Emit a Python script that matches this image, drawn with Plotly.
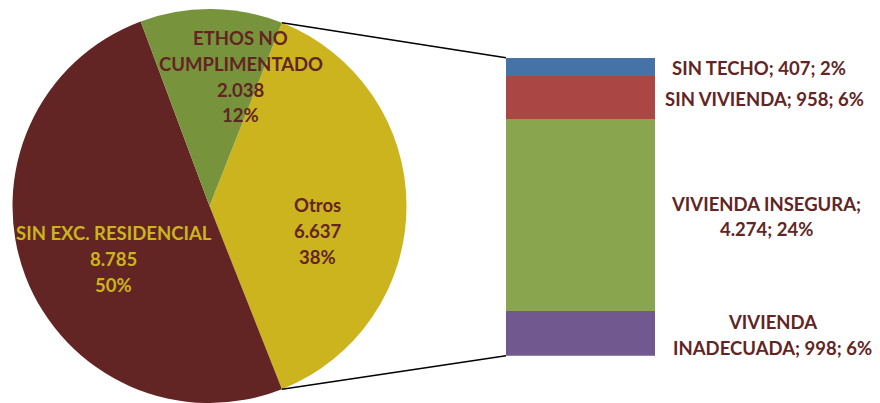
import math
import plotly.graph_objects as go

# ---- data ----
pie_labels = ["Otros", "SIN EXC. RESIDENCIAL", "ETHOS NO<br>CUMPLIMENTADO"]
pie_values = [6637, 8785, 2038]
pie_pcts = ["38%", "50%", "12%"]
pie_colors = ["#CCB41E", "#632523", "#77933C"]

bar_labels = ["VIVIENDA<br>INADECUADA", "VIVIENDA INSEGURA;<br>", "SIN VIVIENDA", "SIN TECHO"]
bar_values = [998, 4274, 958, 407]
bar_pcts = ["6%", "24%", "6%", "2%"]
bar_colors = ["#71588F", "#89A54E", "#AA4643", "#4572A7"]

W, H = 880, 403
TEXT_DARK = "#632523"
FONT = "Lato"
FONT_SIZE = 18.5
LINE_PX = 25.7


def fmt(v):
    return f"{v:,}".replace(",", ".")


# ---- geometry (layout) ----
R_PX = 197
CX_PX = 209.5
pie_dom_x = [(CX_PX - R_PX) / W, (CX_PX + R_PX) / W]
pie_dom_y = [0, 2 * R_PX / H]
CY_PX = H - R_PX  # from top

bar_dom_x = [506 / W, 655 / W]
bar_dom_y = [(H - 355.7) / H, (H - 57.7) / H]
bar_label_xpx = [772, 766, 764, 758.5]

total = sum(pie_values)
otros_frac = pie_values[0] / total
rotation = 90 - 180 * otros_frac  # Otros slice centered at 3 o'clock

fig = go.Figure()
fig.add_trace(go.Pie(
    labels=[l.replace("<br>", " ") for l in pie_labels],
    values=pie_values,
    marker=dict(colors=pie_colors, line=dict(width=0)),
    sort=False,
    direction="clockwise",
    rotation=rotation,
    textinfo="none",
    hoverinfo="skip",
    domain=dict(x=pie_dom_x, y=pie_dom_y),
    showlegend=False,
))

for lab, val, col in zip(bar_labels, bar_values, bar_colors):
    fig.add_trace(go.Bar(
        x=[0], y=[val], width=1, marker=dict(color=col, line=dict(width=0)),
        hoverinfo="skip", showlegend=False, name=lab,
    ))

annotations = []


def add_block(text, xpx, ypx_center, color):
    lines = [l for l in text.split("<br>") if l != ""]
    n = len(lines)
    for i, line in enumerate(lines):
        ly = ypx_center + (i - (n - 1) / 2) * LINE_PX
        annotations.append(dict(
            x=xpx / W, y=1 - ly / H, xref="paper", yref="paper",
            text=line, showarrow=False,
            xanchor="center", yanchor="middle", align="center",
            font=dict(family=FONT, size=FONT_SIZE, color=color, weight="bold"),
        ))


# pie labels: (angle deg clockwise from top, distance in radius fractions)
pie_label_pos = [(103, 0.565), (241, 0.555), (13.6, 0.675)]
pie_text_colors = [TEXT_DARK, "#CCB41E", TEXT_DARK]
for lab, val, pct, (ang, d), col in zip(pie_labels, pie_values, pie_pcts, pie_label_pos, pie_text_colors):
    xpx = CX_PX + d * R_PX * math.sin(math.radians(ang))
    ypx = CY_PX - d * R_PX * math.cos(math.radians(ang))
    add_block(f"{lab}<br>{fmt(val)}<br>{pct}", xpx, ypx, col)

# bar labels at segment centres
bar_total = sum(bar_values)
cum = 0
for lab, val, pct, lx in zip(bar_labels, bar_values, bar_pcts, bar_label_xpx):
    mid = cum + val / 2
    cum += val
    if lab.endswith("<br>"):
        txt = f"{lab}{fmt(val)}; {pct}"
    else:
        txt = f"{lab}; {fmt(val)}; {pct}"
    yp = bar_dom_y[0] + (mid / bar_total) * (bar_dom_y[1] - bar_dom_y[0])
    add_block(txt, lx, (1 - yp) * H + 1.5, TEXT_DARK)

# connector lines from Otros slice edges to the bar corners
a1 = math.radians(rotation)
a2 = math.radians(rotation + 360 * otros_frac)
shapes = []
for a, by in ((a1, bar_dom_y[1]), (a2, bar_dom_y[0])):
    px = CX_PX + R_PX * math.sin(a)
    py = CY_PX - R_PX * math.cos(a)
    shapes.append(dict(
        type="line", xref="paper", yref="paper",
        x0=px / W, y0=1 - py / H, x1=bar_dom_x[0], y1=by,
        line=dict(color="black", width=1.5),
    ))

fig.update_layout(
    width=W, height=H,
    margin=dict(l=0, r=0, t=0, b=0),
    paper_bgcolor="white", plot_bgcolor="white",
    barmode="stack", bargap=0,
    xaxis=dict(domain=bar_dom_x, range=[-0.5, 0.5], visible=False, fixedrange=True),
    yaxis=dict(domain=bar_dom_y, range=[0, bar_total], visible=False, fixedrange=True),
    annotations=annotations,
    shapes=shapes,
    showlegend=False,
)

fig.write_html(
    "out.html",
    config={"displayModeBar": False},
    post_script="document.body.style.margin='0';document.body.style.overflow='hidden';",
)
